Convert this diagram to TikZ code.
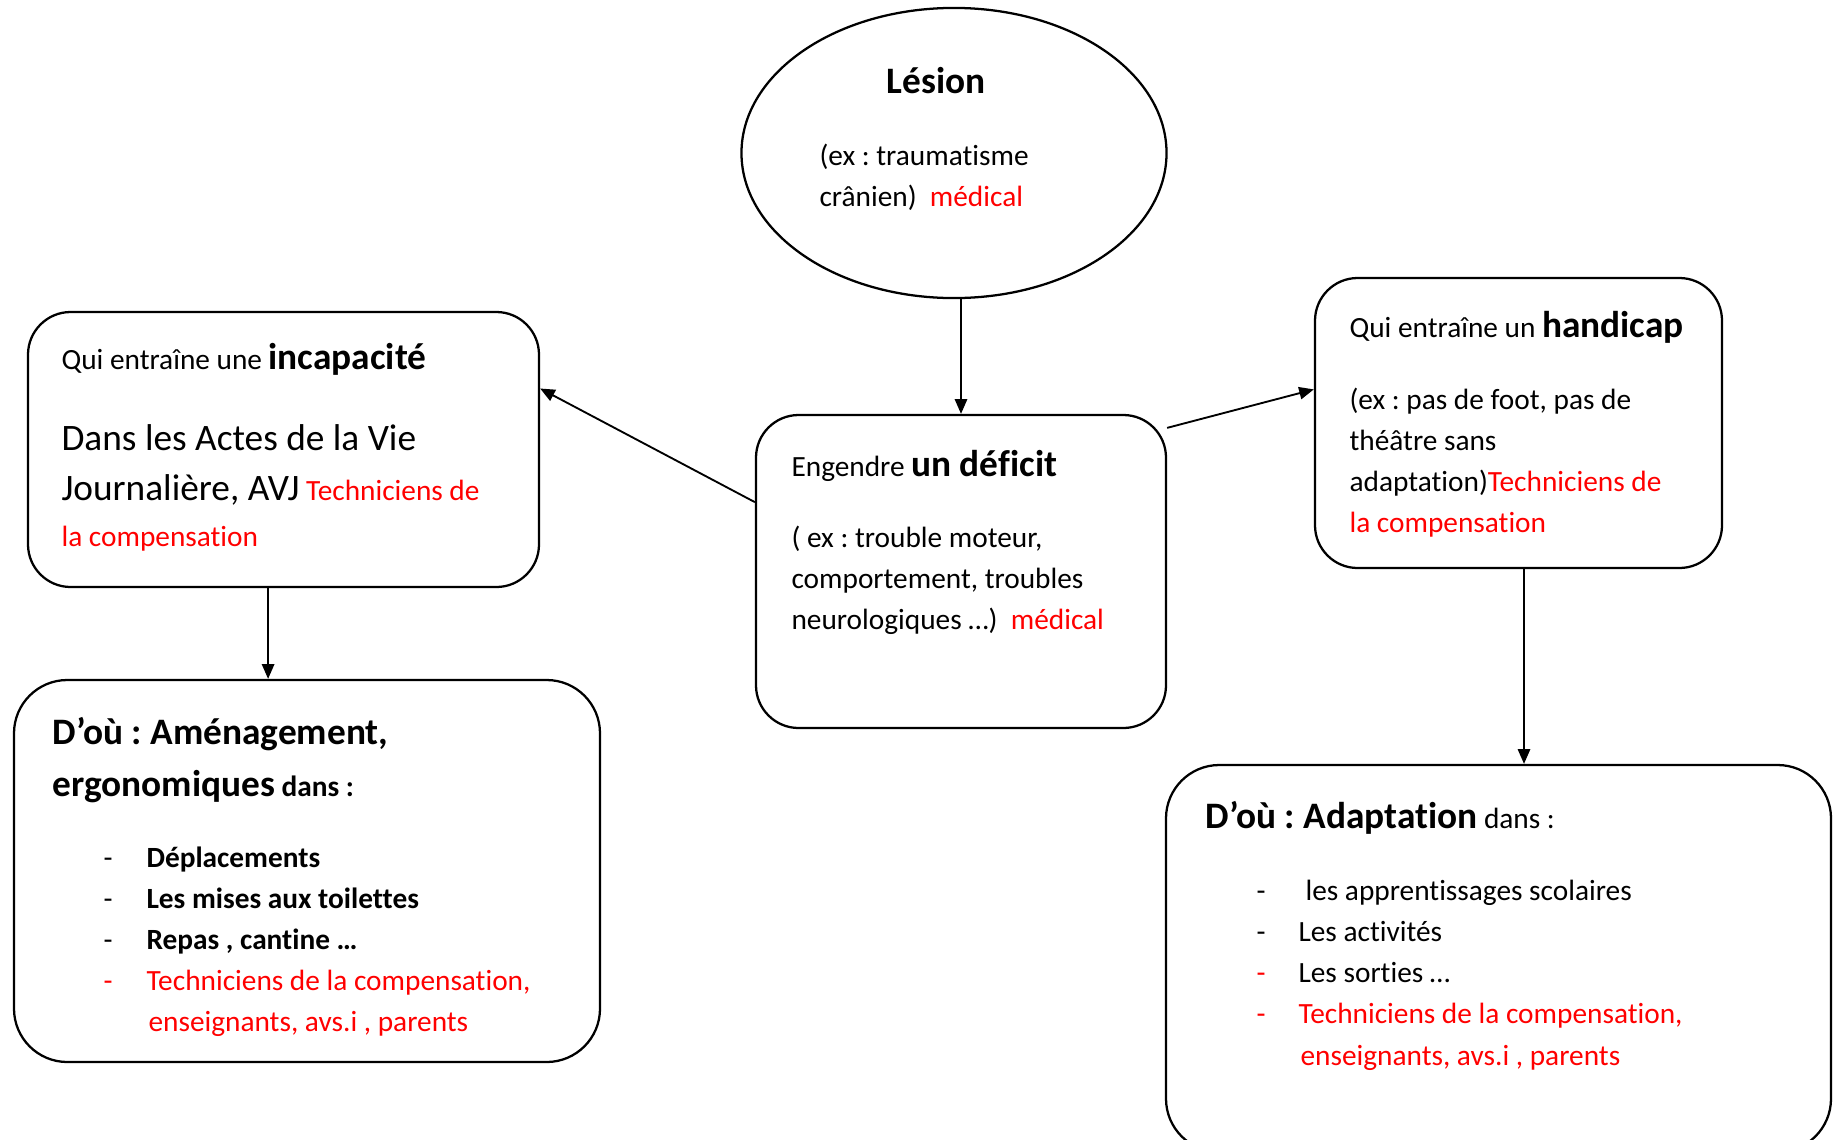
\documentclass[tikz,border=0pt]{standalone}
\usepackage{fontspec}
\setmainfont{Carlito}[Ligatures=NoCommon]
\usetikzlibrary{arrows.meta,shapes.geometric,fit,calc}
\frenchspacing
\begin{document}
\begin{tikzpicture}[x=0.375pt,y=-0.375pt,
  box/.style={draw, line width=0.85pt, inner sep=0pt, rounded corners=16pt},
  bbox/.style={draw, line width=0.85pt, inner sep=0pt, rounded corners=20pt},
  arr/.style={line width=0.7pt, -{Triangle[length=5.5pt,width=4.6pt]}},
  txt/.style={anchor=base west, inner sep=0pt, font=\fontsize{11}{13}\selectfont},
  bigt/.style={anchor=base west, inner sep=0pt, font=\fontsize{14}{17}\selectfont},
  bigbt/.style={anchor=base west, inner sep=0pt, font=\fontsize{14}{17}\selectfont\bfseries},
  dsh/.style={anchor=base west, inner sep=0pt, font=\fontsize{11}{13}\selectfont}]
\newcommand{\bigbf}{\fontsize{14}{17}\selectfont\bfseries}
\fill[white] (0,0) rectangle (1834,1139);
\clip (0,0) rectangle (1834,1139);

% shapes
\node[draw, ellipse, line width=0.85pt, inner sep=0pt, minimum width=159.4pt, minimum height=108.8pt] (lesion) at (954,153) {};
\coordinate (d1) at (756,415); \coordinate (d2) at (1166,728);
\node[box, fit=(d1)(d2)] (def) {};
\coordinate (i1) at (28,312); \coordinate (i2) at (539,587);
\node[box, fit=(i1)(i2)] (inc) {};
\coordinate (h1) at (1315,278); \coordinate (h2) at (1722,568);
\node[box, fit=(h1)(h2)] (hand) {};
\coordinate (a1) at (14,680); \coordinate (a2) at (600,1062);
\node[bbox, fit=(a1)(a2)] (amen) {};
\coordinate (b1) at (1166,765); \coordinate (b2) at (1831,1152);
\node[bbox, fit=(b1)(b2)] (adapt) {};

% connectors
\draw[arr] (def.north |- lesion.south) -- (def.north);
\draw[arr] ($(def.north west)!0.28!(def.south west)$) -- ($(inc.north east)!0.28!(inc.south east)$);
\draw[arr] ($(def.north east)+(0,14)$) -- ($(hand.north west)!0.385!(hand.south west)$);
\coordinate (ia) at ($(inc.south west)!0.47!(inc.south east)$);
\draw[arr] (ia) -- (ia |- amen.north);
\coordinate (ha) at (1524,568);
\draw[arr] (ha) -- (ha |- adapt.north);

% Lesion
\node[bigbt] (l1) at (886,93) {Lésion};
\node[txt] (l2) at (819,165) {(ex : traumatisme};
\node[txt] (l3) at (819,206) {crânien)\ \ \textcolor{red}{médical}};

% Deficit
\node[txt] (d1t) at (791,476) {Engendre {\bigbf un déficit}};
\node[txt] (d2t) at (791,547) {( ex : trouble moteur,};
\node[txt] (d3t) at (791,588) {comportement, troubles};
\node[txt] (d4t) at (791,629) {neurologiques …)\ \ \textcolor{red}{médical}};

% Incapacite
\node[txt] (i1t) at (61,369) {Qui entraîne une {\bigbf incapacité}};
\node[bigt] (i2t) at (61,450) {Dans les Actes de la Vie};
\node[txt] (i3t) at (61,500) {{\fontsize{14}{17}\selectfont Journalière, AVJ} \textcolor{red}{Techniciens de}};
\node[txt, text=red] (i4t) at (61,546) {la compensation};

% Handicap
\node[txt] (h1t) at (1349,337) {Qui entraîne un {\bigbf handicap}};
\node[txt] (h2t) at (1349,409) {(ex : pas de foot, pas de};
\node[txt] (h3t) at (1349,450) {théâtre sans};
\node[txt] (h4t) at (1349,491) {adaptation)\textcolor{red}{Techniciens de}};
\node[txt, text=red] (h5t) at (1349,532) {la compensation};

% Amenagement
\node[bigbt] (a1t) at (52,744) {D’où : Aménagement,};
\node[txt] (a2t) at (52,796) {{\bigbf ergonomiques} \textbf{dans :}};
\node[dsh] (ad1) at (103,867) {-};
\node[txt, font=\fontsize{11}{13}\selectfont\bfseries] (a3t) at (146,867) {Déplacements};
\node[dsh] (ad2) at (103,908) {-};
\node[txt, font=\fontsize{11}{13}\selectfont\bfseries] (a4t) at (146,908) {Les mises aux toilettes};
\node[dsh] (ad3) at (103,949) {-};
\node[txt, font=\fontsize{11}{13}\selectfont\bfseries] (a5t) at (146,949) {Repas , cantine …};
\node[dsh, text=red] (ad4) at (103,990) {-};
\node[txt, text=red] (a6t) at (146,990) {Techniciens de la compensation,};
\node[txt, text=red] (a7t) at (148,1031) {enseignants, avs.i , parents};

% Adaptation
\node[txt] (b1t) at (1205,828) {{\bigbf D’où : Adaptation} dans :};
\node[dsh] (bd1) at (1256,900) {-};
\node[txt] (b2t) at (1305,900) {les apprentissages scolaires};
\node[dsh] (bd2) at (1256,941) {-};
\node[txt] (b3t) at (1298,941) {Les activités};
\node[dsh, text=red] (bd3) at (1256,982) {-};
\node[txt] (b4t) at (1298,982) {Les sorties …};
\node[dsh, text=red] (bd4) at (1256,1023) {-};
\node[txt, text=red] (b5t) at (1298,1023) {Techniciens de la compensation,};
\node[txt, text=red] (b6t) at (1300,1065) {enseignants, avs.i , parents};
\end{tikzpicture}
\end{document}
